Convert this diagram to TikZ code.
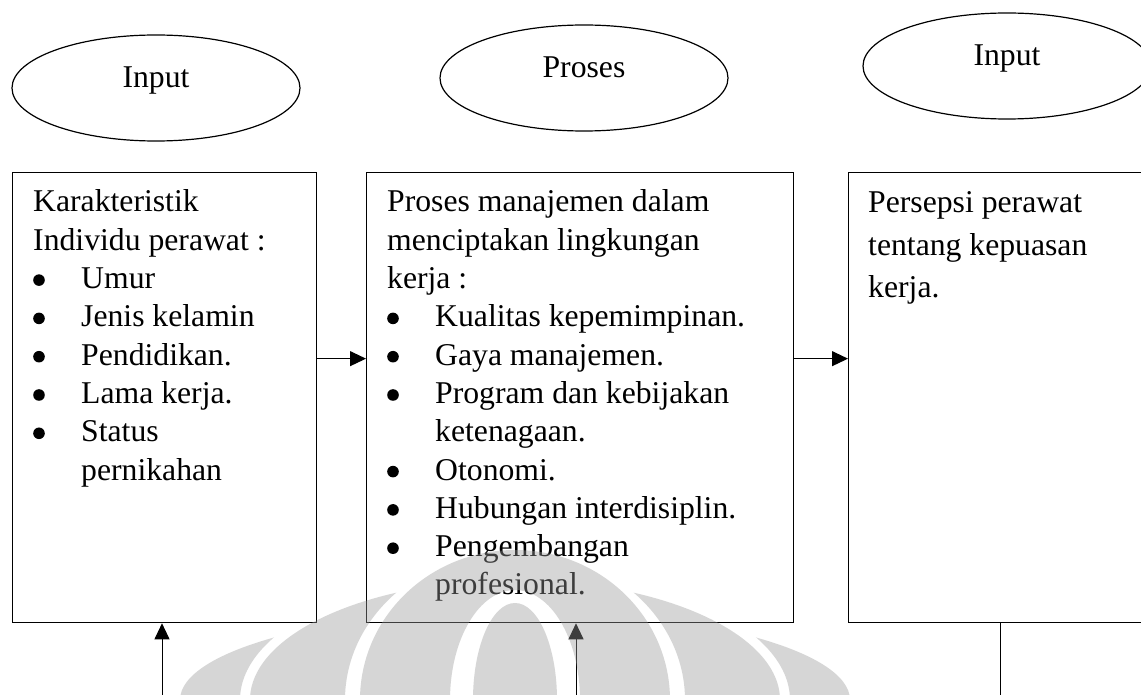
\documentclass[tikz,border=0pt]{standalone}
\usepackage{fontspec}
\setmainfont{Liberation Serif}
\usetikzlibrary{shapes.geometric,arrows.meta}
\newcommand\wbul{\makebox[48pt][l]{\tikz[baseline=0pt]\fill (5.8pt,8.5pt) circle (5.8pt);}}
\newcommand\wind{\hspace*{48pt}}
\begin{document}
\begin{tikzpicture}[x=1pt,y=-1pt,
  oval/.style={ellipse,draw,line width=1.2pt,minimum width=288pt,minimum height=106pt,inner sep=0pt,text height=22pt,text depth=22pt,font=\fontsize{31.7pt}{38.3pt}\selectfont},
  frame/.style={draw,line width=1.3pt,minimum width=#1,minimum height=450pt,inner sep=0pt,anchor=north west},
  body/.style={anchor=base west,inner sep=0pt,font=\fontsize{31.7pt}{38.3pt}\selectfont},
  bodywide/.style={anchor=base west,inner sep=0pt,font=\fontsize{31.7pt}{42.5pt}\selectfont},
  arr/.style={line width=1pt,-{Triangle[length=16pt,width=15pt]}},
  plain/.style={line width=1pt},
  wm/.style={fill=black!40,opacity=0.4}]
\useasboundingbox (0,0) rectangle (1141,695);
\fill[white] (0,0) rectangle (1141,695);

% ovals
\node[oval] (e1) at (156,88) {Input};
\node[oval] (e2) at (584,78) {Proses};
\node[oval] (e3) at (1007,66) {Input};

% boxes
\node[frame=304pt] (b1) at (12,172) {};
\node[frame=427pt] (b2) at (366,172) {};
\node[frame=304pt] (b3) at (848,172) {};

% texts
\node[body] (t1) at (33,212) {\begin{tabular}[t]{@{}l@{}}
Karakteristik\\
Individu perawat :\\
\wbul Umur\\
\wbul Jenis kelamin\\
\wbul Pendidikan.\\
\wbul Lama kerja.\\
\wbul Status\\
\wind pernikahan
\end{tabular}};

\node[body] (t2) at (387,212) {\begin{tabular}[t]{@{}l@{}}
Proses manajemen dalam\\
menciptakan lingkungan\\
kerja :\\
\wbul Kualitas kepemimpinan.\\
\wbul Gaya manajemen.\\
\wbul Program dan kebijakan\\
\wind ketenagaan.\\
\wbul Otonomi.\\
\wbul Hubungan interdisiplin.\\
\wbul Pengembangan\\
\wind profesional.
\end{tabular}};

\node[bodywide] (t3) at (868,213) {\begin{tabular}[t]{@{}l@{}}
Persepsi perawat\\
tentang kepuasan\\
kerja.
\end{tabular}};

% connectors
\draw[arr] ([yshift=39pt]b1.east) -- ([yshift=39pt]b2.west);
\draw[arr] ([yshift=39pt]b2.east) -- ([yshift=39pt]b3.west);
\coordinate (s1) at (162,700);
\coordinate (s2) at (576,700);
\coordinate (s3) at (1000,700);
\draw[arr] (s1) -- (s1 |- b1.south);
\draw[arr] (s2) -- (s2 |- b2.south);
\draw[plain] (s3 |- b3.south) -- (s3);

% watermark
\begin{scope}
  \clip (515,700) ellipse [x radius=335pt, y radius=90pt];
  \fill[wm, even odd rule] (0,0) rectangle (1141,760) (515,700) ellipse [x radius=275pt, y radius=130pt];
\end{scope}
\begin{scope}
  \clip (515,700) ellipse [x radius=265pt, y radius=120pt];
  \fill[wm, even odd rule] (0,0) rectangle (1141,760) (515,700) ellipse [x radius=170pt, y radius=150pt];
\end{scope}
\begin{scope}
  \clip (515,700) ellipse [x radius=155pt, y radius=150pt];
  \fill[wm, even odd rule] (0,0) rectangle (1141,760) (515,700) ellipse [x radius=65pt, y radius=110pt];
\end{scope}
\fill[wm] (515,700) ellipse [x radius=42pt, y radius=97pt];
\end{tikzpicture}
\end{document}
